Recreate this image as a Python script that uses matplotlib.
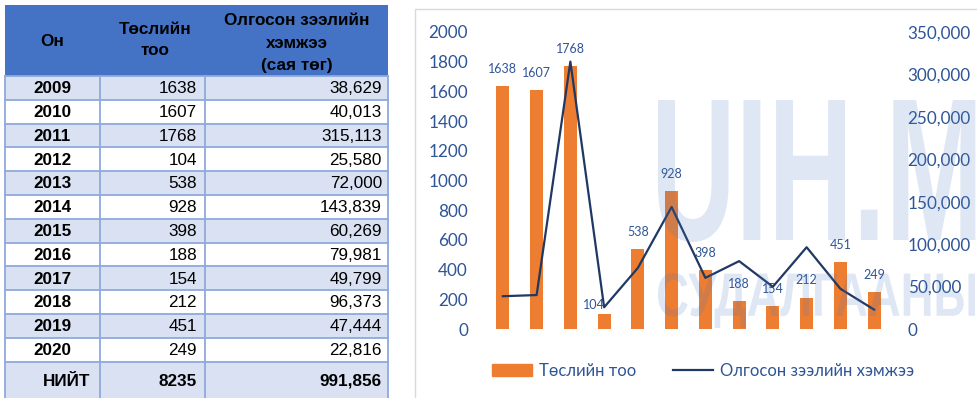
import matplotlib
matplotlib.use("Agg")
import matplotlib.pyplot as plt
from matplotlib.patches import Rectangle, PathPatch
from matplotlib.textpath import TextPath
from matplotlib.font_manager import FontProperties
from matplotlib.lines import Line2D
from matplotlib.ticker import FuncFormatter, MultipleLocator
from matplotlib.transforms import Affine2D

# Data
years = [2009, 2010, 2011, 2012, 2013, 2014, 2015, 2016, 2017, 2018, 2019, 2020]
projects = [1638, 1607, 1768, 104, 538, 928, 398, 188, 154, 212, 451, 249]
loans = [38629, 40013, 315113, 25580, 72000, 143839, 60269, 79981, 49799, 96373, 47444, 22816]
header = ["Он", "Төслийн\nтоо", "Олгосон зээлийн\nхэмжээ\n(сая төг)"]
totalLabel = "НИЙТ"
legendLabels = ["Төслийн тоо", "Олгосон зээлийн хэмжээ"]

W, H = 978, 398
TEXT_BLUE = "#2F5597"
ORANGE = "#ED7D31"
NAVY = "#1F3864"
GRID = "#8EA9DB"
LIGHT = "#D9E1F2"

fig = plt.figure(figsize=(W / 100, H / 100), dpi=100)

# Pixel-space axes for the table and the chart frame
tab = fig.add_axes([0, 0, 1, 1])
tab.set_xlim(0, W)
tab.set_ylim(H, 0)
tab.axis("off")

tableFont = "Liberation Sans"
fs = 12.3
colEdges = [5, 100, 205, 388]
headTop, headBottom = 5, 76
rowH = 23.8
totalBottom = 400

# header block
tab.add_patch(Rectangle((colEdges[0], headTop), colEdges[-1] - colEdges[0],
                        headBottom - headTop, color="#4472C4", lw=0))
tab.text(52, 42, header[0], ha="center", va="center", fontsize=fs,
         fontweight="bold", family=tableFont)
tab.text(155, 40, header[1], ha="center", va="center", fontsize=fs,
         fontweight="bold", family=tableFont, linespacing=1.58)
tab.text(297, 43, header[2], ha="center", va="center", fontsize=fs,
         fontweight="bold", family=tableFont, linespacing=1.6)

# body rows
for i, (yr, n, amt) in enumerate(zip(years, projects, loans)):
    top = headBottom + i * rowH
    fill = LIGHT if i % 2 == 0 else "white"
    tab.add_patch(Rectangle((colEdges[0], top), colEdges[-1] - colEdges[0], rowH,
                            color=fill, lw=0))
    cy = top + rowH / 2 + 0.8
    tab.text(52, cy, str(yr), ha="center", va="center", fontsize=fs,
             fontweight="bold", family=tableFont)
    tab.text(197, cy, str(n), ha="right", va="center", fontsize=fs,
             family=tableFont)
    tab.text(382, cy, f"{amt:,}", ha="right", va="center", fontsize=fs,
             family=tableFont)
    tab.plot([colEdges[0], colEdges[-1]], [top, top], color=GRID, lw=1.3)

# total row
totalTop = headBottom + len(years) * rowH
tab.add_patch(Rectangle((colEdges[0], totalTop), colEdges[-1] - colEdges[0],
                        totalBottom - totalTop, color=LIGHT, lw=0))
tab.plot([colEdges[0], colEdges[-1]], [totalTop, totalTop], color=GRID, lw=1.3)
cy = totalTop + 19.5
tab.text(90, cy, totalLabel, ha="right", va="center", fontsize=fs,
         fontweight="bold", family=tableFont)
tab.text(197, cy, str(sum(projects)), ha="right", va="center", fontsize=fs,
         fontweight="bold", family=tableFont)
tab.text(382, cy, f"{sum(loans):,}", ha="right", va="center", fontsize=fs,
         fontweight="bold", family=tableFont)
for x in colEdges:
    tab.plot([x, x], [headBottom, totalBottom], color=GRID, lw=1.3)

# chart frame
tab.plot([415, 415, W + 2], [H + 2, 8.5, 8.5], color="#D9D9D9", lw=1)

# Chart
chartFont = ["Lato", "Noto Sans", "DejaVu Sans"]
ax = fig.add_axes([486 / W, 69 / H, 405 / W, 297 / H])
pos = list(range(len(years)))
bars = ax.bar(pos, projects, width=0.38, color=ORANGE, zorder=2)
ax.set_xlim(-0.5, len(years) - 0.5)
ax.set_ylim(0, 2000)
ax.yaxis.set_major_locator(MultipleLocator(200))
ax.tick_params(axis="y", length=0, pad=13, labelsize=12.3, labelcolor=TEXT_BLUE)
ax.set_xticks([])
for s in ax.spines.values():
    s.set_visible(False)
for lab in ax.get_yticklabels():
    lab.set_family(chartFont)

for i, v in enumerate(projects):
    off = (-7, 2) if v < 120 else (0, 8)
    ax.annotate(str(v), (pos[i], v), xytext=off, textcoords="offset points",
                ha="center", va="bottom", fontsize=9, color=TEXT_BLUE,
                family=chartFont)

ax2 = ax.twinx()
ax2.plot(pos, loans, color=NAVY, lw=1.6, zorder=3)
ax2.set_ylim(0, 350000)
ax2.yaxis.set_major_locator(MultipleLocator(50000))
ax2.yaxis.set_major_formatter(FuncFormatter(lambda v, p: f"{int(v):,}"))
ax2.tick_params(axis="y", length=0, pad=12, labelsize=12.3, labelcolor=TEXT_BLUE)
for s in ax2.spines.values():
    s.set_visible(False)
for lab in ax2.get_yticklabels():
    lab.set_family(chartFont)

handles = [Rectangle((0, 0), 1, 1, color=ORANGE), Line2D([], [], color=NAVY, lw=1.6)]
fig.legend(handles, legendLabels, loc="center", bbox_to_anchor=(703 / W, 1 - 371 / H),
           ncol=2, frameon=False, handlelength=2.4, handleheight=0.75,
           columnspacing=2.2, handletextpad=0.4,
           prop={"family": chartFont, "size": 12}, labelcolor=TEXT_BLUE)

# Watermark over the chart
over = fig.add_axes([0, 0, 1, 1])
over.set_xlim(0, W)
over.set_ylim(H, 0)
over.axis("off")
over.patch.set_alpha(0)


def stamp(txt, x0, x1, y0, y1):
    tp = TextPath((0, 0), txt, size=1, prop=FontProperties(family="Liberation Sans", weight="bold"))
    ext = tp.get_extents()
    sx = (x1 - x0) / ext.width
    sy = (y1 - y0) / ext.height
    tr = Affine2D().translate(-ext.x0, -ext.y0).scale(sx, -sy).translate(x0, y1)
    over.add_patch(PathPatch(tr.transform_path(tp), color="#4A7CC0", alpha=0.18, lw=0))


stamp("UIH.MN", 658, 1060, 100, 242)
stamp("СУДАЛГААНЫ", 658, 975, 273, 328)

fig.savefig("out.png", dpi=100)
